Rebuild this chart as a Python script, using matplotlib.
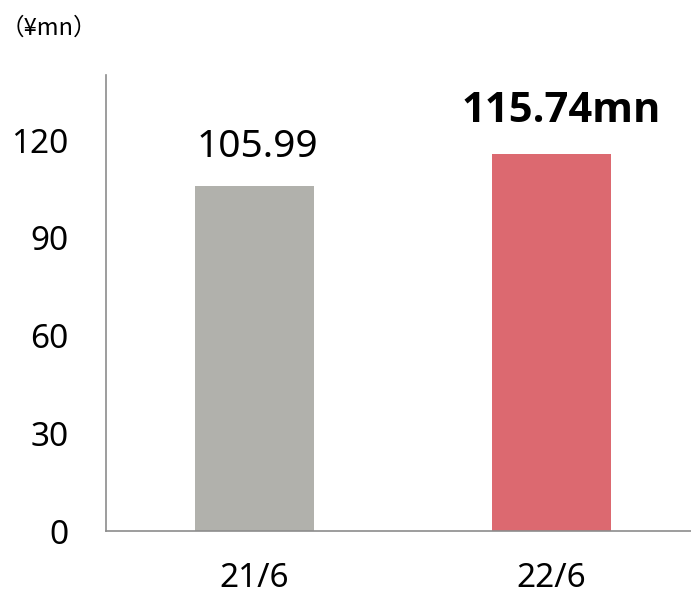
import matplotlib.pyplot as plt

periods = ['21/6', '22/6']
revenue = [105.99, 115.74]
bar_colors = ['#B1B1AC', '#DC6970']
y_ticks = [0, 30, 60, 90, 120]

plt.rcParams['font.family'] = ['Noto Sans', 'DejaVu Sans']

fig = plt.figure(figsize=(6.91, 5.99), dpi=100)
ax = fig.add_axes([106 / 691, 68 / 599, (691 - 106) / 691, (531 - 75) / 599])

x = range(len(periods))
ax.bar(x, revenue, width=0.4, color=bar_colors)

ax.set_ylim(0, 140)
ax.set_xlim(-0.5, 1.47)
ax.set_yticks(y_ticks)
ax.set_xticks(list(x))
ax.set_xticklabels(periods)
ax.tick_params(axis='y', length=0, pad=27, labelsize=24)
ax.tick_params(axis='x', length=0, pad=22, labelsize=24)

for side in ['top', 'right']:
    ax.spines[side].set_visible(False)
for side in ['left', 'bottom']:
    ax.spines[side].set_color('#8C8C8C')
    ax.spines[side].set_linewidth(1.2)

# first bar gets a plain value, the latest one a bold value with unit
ax.annotate('{:.2f}'.format(revenue[0]), (0, revenue[0]), xytext=(2, 14),
            textcoords='offset points', ha='center', va='bottom', fontsize=28)
ax.annotate('{:.2f}mn'.format(revenue[1]), (1, revenue[1]), xytext=(7, 16),
            textcoords='offset points', ha='center', va='bottom', fontsize=30,
            fontweight='bold', family=['Open Sans', 'DejaVu Sans'])

fig.text(1 / 691, 1 - 28 / 599, '（¥mn）', ha='left', va='center', fontsize=17,
         family=['Noto Sans CJK JP', 'DejaVu Sans'])

fig.savefig('out.png', dpi=100)
